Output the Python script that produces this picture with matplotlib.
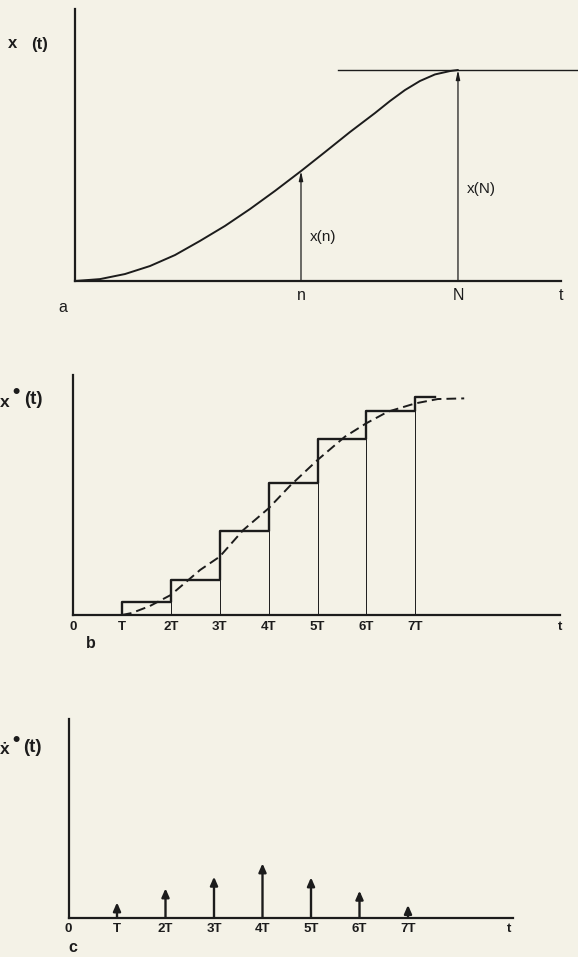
import matplotlib
matplotlib.use("Agg")
import matplotlib.pyplot as plt
import numpy as np

W, H = 578, 957
BG = '#f4f2e7'
INK = '#1c1c1c'
FAM = ['Liberation Sans', 'DejaVu Sans']
plt.rcParams['font.family'] = FAM

# ---------------- data ----------------
# panel a: continuous curve x(t), t in units where N = 10, x(N) = 1
curve_t = [0, 0.653, 1.305, 1.958, 2.611, 3.264, 3.916, 4.569, 5.222, 5.901, 6.527,
           7.180, 7.833, 8.225, 8.616, 9.008, 9.399, 9.791, 10.0]
curve_x = [0, 0.009, 0.033, 0.071, 0.123, 0.190, 0.261, 0.341, 0.427, 0.521, 0.611,
           0.706, 0.796, 0.853, 0.905, 0.948, 0.979, 0.995, 1.0]
n_val, N_val = 5.901, 10.0
xn_val, xN_val = 0.521, 1.0
a_ticks = [n_val, N_val, 12.69]
a_ticklabels = ['n', 'N', 't']

# panel b: sampled-and-held staircase (t in units of T)
step_edges = [1, 2, 3, 4, 5, 6, 7, 7.4]
step_levels = [0.58, 1.61, 3.87, 6.05, 8.07, 9.37, 10.0]
dash_t = [1.0, 1.2, 1.57, 2.0, 2.6, 3.0, 3.48, 4.0, 4.44, 5.0, 5.56, 6.0, 6.44, 7.0, 7.46, 8.0]
dash_x = [0.0, 0.09, 0.41, 0.92, 2.07, 2.68, 3.90, 4.90, 5.94, 7.12, 8.19, 8.81, 9.34, 9.72, 9.92, 9.95]
bc_ticks = [0, 1, 2, 3, 4, 5, 6, 7]
bc_ticklabels = ['0', 'T', '2T', '3T', '4T', '5T', '6T', '7T']

# panel c: impulse train heights
imp_t = [1, 2, 3, 4, 5, 6, 7]
imp_h = [1.53, 2.93, 4.10, 5.43, 4.03, 2.70, 1.27]

# ---------------- figure ----------------
fig = plt.figure(figsize=(W / 100, H / 100), dpi=100, facecolor=BG)


def make_ax(left, right, top, bottom, xmax, ymax):
    ax = fig.add_axes([left / W, 1 - bottom / H, (right - left) / W, (bottom - top) / H])
    ax.set_facecolor('none')
    ax.set_xlim(0, xmax)
    ax.set_ylim(0, ymax)
    for s in ('top', 'right'):
        ax.spines[s].set_visible(False)
    for s in ('left', 'bottom'):
        ax.spines[s].set_linewidth(1.6)
        ax.spines[s].set_color(INK)
    ax.tick_params(axis='both', length=0)
    ax.set_yticks([])
    return ax


def ftext(x, y, s, **kw):
    fig.text(x / W, 1 - y / H, s, ha='center', va='center', color=INK, **kw)


# ---- panel a ----
axa = make_ax(75, 561, 9, 281, 12.69, 272 / 211)
axa.plot(curve_t, curve_x, color=INK, lw=1.4, solid_capstyle='round', solid_joinstyle='round')
axa.plot([6.87, 13.13], [xN_val, xN_val], color=INK, lw=1.0, clip_on=False)
for tv, xv in [(n_val, xn_val), (N_val, xN_val)]:
    axa.annotate('', xy=(tv, xv), xytext=(tv, 0),
                 arrowprops=dict(arrowstyle='-|>,head_length=0.55,head_width=0.12',
                                 lw=0.9, color=INK, shrinkA=0, shrinkB=0))
axa.set_xticks(a_ticks, a_ticklabels, fontsize=11.5, color=INK)
axa.tick_params(axis='x', pad=5)
axa.text(n_val + 0.22, 0.21, 'x(n)', fontsize=11, color=INK, ha='left', va='center')
axa.text(N_val + 0.22, 0.435, 'x(N)', fontsize=11, color=INK, ha='left', va='center')
ftext(13, 44, 'x', fontsize=12, fontweight='bold')
ftext(40, 44, '(t)', fontsize=12, fontweight='bold')
ftext(63, 308, 'a', fontsize=11.5)

# ---- panel b ----
axb = make_ax(73, 560, 375, 615, 487 / 48.9, 240 / 21.77)
sx = [step_edges[0]] + step_edges
sy = [0] + step_levels + [step_levels[-1]]
axb.step(sx, sy, where='post', color=INK, lw=1.7)
axb.vlines(step_edges[1:-1], 0, step_levels[:-1], color=INK, lw=0.7)
axb.plot(dash_t, dash_x, color=INK, lw=1.4, linestyle=(0, (5.0, 2.6)))
axb.set_xticks(bc_ticks + [487 / 48.9], bc_ticklabels + ['t'], fontsize=9.5,
               fontweight='bold', color=INK)
axb.tick_params(axis='x', pad=4)
ftext(5, 403, 'x', fontsize=12.5, fontweight='bold')
ftext(16, 393, '•', fontsize=15, fontweight='bold')
ftext(33, 400, '(t)', fontsize=13.5, fontweight='bold')
ftext(91, 643, 'b', fontsize=11.5, fontweight='bold')

# ---- panel c ----
axc = make_ax(68.5, 513, 719, 917.7, 444.5 / 48.5, 198.7 / 10)
for tv, hv in zip(imp_t, imp_h):
    axc.annotate('', xy=(tv, hv), xytext=(tv, 0),
                 arrowprops=dict(arrowstyle='-|>,head_length=0.5,head_width=0.22',
                                 lw=1.7, color=INK, shrinkA=0, shrinkB=0))
axc.set_xticks(bc_ticks + [9.08], bc_ticklabels + ['t'], fontsize=9.5,
               fontweight='bold', color=INK)
axc.tick_params(axis='x', pad=4)
ftext(5, 749, 'ẋ', fontsize=12.5, fontweight='bold')
ftext(16, 740, '•', fontsize=15, fontweight='bold')
ftext(32, 747, '(t)', fontsize=13.5, fontweight='bold')
ftext(73, 948, 'c', fontsize=11.5, fontweight='bold')

fig.savefig('out.png', dpi=100, facecolor=BG)
